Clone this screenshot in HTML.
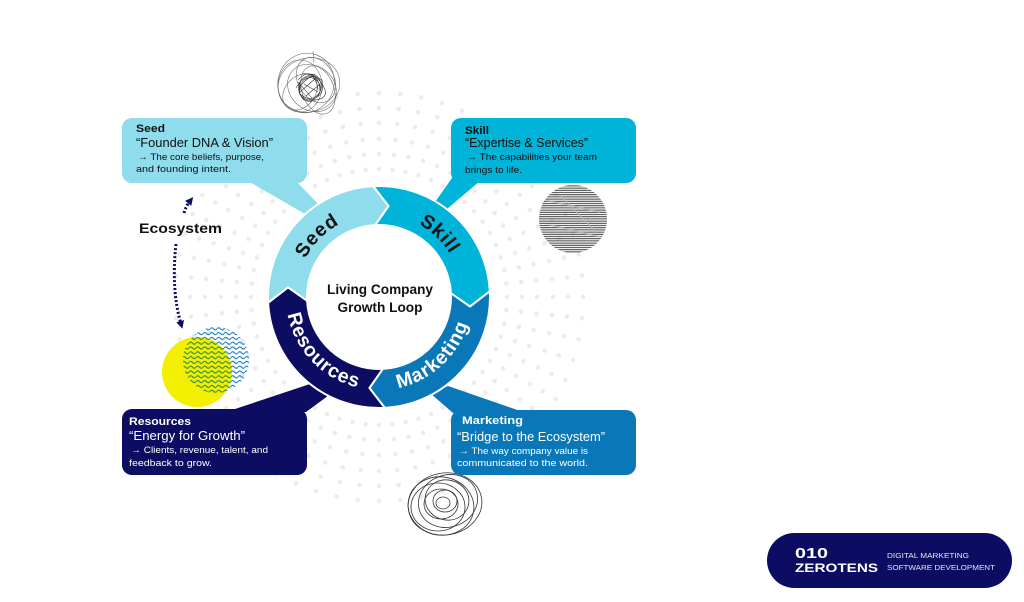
<!DOCTYPE html>
<html>
<head>
<meta charset="utf-8">
<style>
  html,body{margin:0;padding:0;background:#ffffff;}
  body{width:1024px;height:602px;overflow:hidden;}
  svg{display:block;}
  text{font-family:"Liberation Sans", sans-serif;}
</style>
</head>
<body>
<svg width="1024" height="602" viewBox="0 0 1024 602" xmlns="http://www.w3.org/2000/svg">
  <defs>
    <pattern id="wave" patternUnits="userSpaceOnUse" width="7" height="4.8">
      <path d="M0 2.4 Q1.75 0.3 3.5 2.4 T7 2.4" fill="none" stroke="#1f7fc4" stroke-width="1.2"/>
    </pattern>
    <pattern id="waveg" patternUnits="userSpaceOnUse" width="7" height="4.8">
      <path d="M0 2.4 Q1.75 0.3 3.5 2.4 T7 2.4" fill="none" stroke="#2f8f4a" stroke-width="1.2"/>
    </pattern>
    <pattern id="hatch" patternUnits="userSpaceOnUse" width="10" height="2.2">
      <line x1="0" y1="1.1" x2="10" y2="1.1" stroke="#2a2a2a" stroke-width="0.9"/>
    </pattern>
    <clipPath id="yclip"><circle cx="197" cy="372" r="35"/></clipPath>
    <clipPath id="wclip"><circle cx="216" cy="360" r="33"/></clipPath>
    <clipPath id="hclip"><circle cx="573" cy="219" r="34"/></clipPath>
    <path id="topArc" d="M296 297 A83 83 0 0 1 462 297"/>
    <path id="botArc" d="M286 297 A93 93 0 0 0 472 297"/>
    <marker id="ah" markerWidth="8" markerHeight="8" refX="3" refY="4" orient="auto" markerUnits="userSpaceOnUse">
      <path d="M0 0 L8 4 L0 8 Z" fill="#0c0c62"/>
    </marker>
  </defs>

  <!-- radial dots -->
  <g fill="none" stroke="#ececec" stroke-width="4.6" stroke-linecap="round" stroke-dasharray="0 1">
    <circle cx="379" cy="297" r="128" pathLength="60"/>
    <circle cx="379" cy="297" r="143" pathLength="60"/>
    <circle cx="379" cy="297" r="158" pathLength="60"/>
    <circle cx="379" cy="297" r="174" pathLength="60"/>
    <circle cx="379" cy="297" r="189" pathLength="60"/>
    <circle cx="379" cy="297" r="204" pathLength="60"/>
  </g>

  <!-- top scribble -->
  <g fill="none" stroke="#666" stroke-width="0.55">
    <ellipse cx="309" cy="85" rx="31" ry="27" transform="rotate(-15 309 85)"/>
    <ellipse cx="306" cy="83" rx="28" ry="30" transform="rotate(20 306 83)"/>
    <ellipse cx="312" cy="88" rx="26" ry="22" transform="rotate(40 312 88)"/>
    <ellipse cx="300" cy="86" rx="22" ry="26"/>
    <ellipse cx="316" cy="80" rx="18" ry="24" transform="rotate(-30 316 80)"/>
    <ellipse cx="318" cy="90" rx="25" ry="16" transform="rotate(70 318 90)"/>
    <ellipse cx="300" cy="92" rx="20" ry="15" transform="rotate(-50 300 92)"/>
    <path d="M298 80 Q310 66 322 84 T304 100 Q292 88 312 76 Q330 90 310 102 Q296 98 300 82" stroke="#222"/>
    <path d="M302 74 Q320 72 320 92 Q312 104 300 94 Q294 78 314 74 Q326 82 318 96" stroke="#222"/>
    <path d="M296 88 Q306 70 322 80 Q326 98 308 100 Q292 94 304 80 Q316 72 318 90" stroke="#333"/>
    <path d="M304 84 L318 92 M300 92 L316 78 M306 96 L320 84 M298 82 L312 98" stroke="#333"/>
    <path d="M313 51 L314 63"/>
  </g>

  <!-- hatched circle -->
  <rect x="535" y="180" width="80" height="80" fill="url(#hatch)" clip-path="url(#hclip)"/>
  <g clip-path="url(#hclip)" stroke="#bbb" stroke-width="1.5" fill="none" opacity="0.7">
    <path d="M545 200 L600 212"/><path d="M550 225 L605 238"/><path d="M560 195 L596 232"/>
  </g>

  <!-- bottom spiral -->
  <g fill="none" stroke="#333" stroke-width="0.8">
    <ellipse cx="445" cy="504" rx="37" ry="31" transform="rotate(-10 445 504)"/>
    <ellipse cx="441" cy="506" rx="33" ry="29" transform="rotate(10 441 506)"/>
    <ellipse cx="448" cy="501" rx="30" ry="26" transform="rotate(-20 448 501)"/>
    <ellipse cx="438" cy="507" rx="27" ry="24"/>
    <ellipse cx="447" cy="500" rx="22" ry="20" transform="rotate(15 447 500)"/>
    <ellipse cx="441" cy="504" rx="17" ry="15"/>
    <ellipse cx="445" cy="501" rx="12" ry="11"/>
    <ellipse cx="443" cy="503" rx="7" ry="6"/>
  </g>

  <!-- yellow + wavy circles -->
  <circle cx="197" cy="372" r="35" fill="#f3ef00"/>
  <rect x="180" y="325" width="72" height="72" fill="url(#wave)" clip-path="url(#wclip)"/>
  <g clip-path="url(#yclip)">
    <rect x="180" y="325" width="72" height="72" fill="#f3ef00" clip-path="url(#wclip)"/>
    <rect x="180" y="325" width="72" height="72" fill="url(#waveg)" clip-path="url(#wclip)"/>
  </g>

  <!-- Ecosystem arrows -->
  <g fill="none" stroke="#0c0c62" stroke-width="3" stroke-dasharray="2 2">
    <path d="M184 213 Q186 206 190 201" marker-end="url(#ah)"/>
    <path d="M176 244 Q171 290 181 324" marker-end="url(#ah)"/>
  </g>
  <text x="139" y="233" font-size="14" font-weight="bold" fill="#111" textLength="83" lengthAdjust="spacingAndGlyphs">Ecosystem</text>

  <!-- callout tails -->
  <polygon points="248,181 296,181 322,208 312,218" fill="#8edcec"/>
  <polygon points="452,178 480,181 441,214 433,205" fill="#00b3d8"/>
  <polygon points="226,412 306,412 336,390 322,380" fill="#0c0c62"/>
  <polygon points="453,413 526,413 448,386 430,393" fill="#0a78b8"/>

  <!-- callout boxes -->
  <rect x="122" y="118" width="185" height="65" rx="10" fill="#8edcec"/>
  <rect x="451" y="118" width="185" height="65" rx="10" fill="#00b3d8"/>
  <rect x="122" y="409" width="185" height="66" rx="10" fill="#0c0c62"/>
  <rect x="451" y="410" width="185" height="65" rx="10" fill="#0a78b8"/>

  <!-- ring -->
  <g stroke="#ffffff" stroke-width="2" stroke-linejoin="round">
    <path d="M268.15,302.81 A111,111 0 0 1 373.19,186.15 L388.56,206 L375.23,225.10 A72,72 0 0 0 307.10,300.77 L288,287.44 Z" fill="#8edcec"/>
    <path d="M373.19,186.15 A111,111 0 0 1 489.85,291.19 L470,306.56 L450.90,293.23 A72,72 0 0 0 375.23,225.10 L388.56,206 Z" fill="#00b3d8"/>
    <path d="M489.85,291.19 A111,111 0 0 1 384.81,407.85 L369.44,388 L382.77,368.90 A72,72 0 0 0 450.90,293.23 L470,306.56 Z" fill="#0a78b8"/>
    <path d="M384.81,407.85 A111,111 0 0 1 268.15,302.81 L288,287.44 L307.10,300.77 A72,72 0 0 0 382.77,368.90 L369.44,388 Z" fill="#0c0c62"/>
  </g>

  <!-- ring labels -->
  <g font-size="19.5" font-weight="bold" letter-spacing="0.8">
    <text fill="#111"><textPath href="#topArc" startOffset="64.5" text-anchor="middle">Seed</textPath></text>
    <text fill="#111"><textPath href="#topArc" startOffset="193.5" text-anchor="middle">Skill</textPath></text>
    <text fill="#ffffff"><textPath href="#botArc" startOffset="71" text-anchor="middle">Resources</textPath></text>
    <text fill="#ffffff"><textPath href="#botArc" startOffset="215" text-anchor="middle">Marketing</textPath></text>
  </g>

  <!-- center text -->
  <text x="380" y="294" font-size="13.5" font-weight="bold" fill="#111" text-anchor="middle" textLength="106" lengthAdjust="spacingAndGlyphs">Living Company</text>
  <text x="380" y="312" font-size="13.5" font-weight="bold" fill="#111" text-anchor="middle" textLength="85" lengthAdjust="spacingAndGlyphs">Growth Loop</text>

  <!-- Seed box text -->
  <g fill="#111">
    <text x="136" y="132" font-size="11" font-weight="bold" textLength="29" lengthAdjust="spacingAndGlyphs">Seed</text>
    <text x="136" y="147" font-size="12.5" textLength="137" lengthAdjust="spacingAndGlyphs">“Founder DNA &amp; Vision”</text>
    <text x="138" y="160" font-size="9.5" textLength="126" lengthAdjust="spacingAndGlyphs">→ The core beliefs, purpose,</text>
    <text x="136" y="172" font-size="9.5" textLength="95" lengthAdjust="spacingAndGlyphs">and founding intent.</text>
  </g>
  <!-- Skill box text -->
  <g fill="#111">
    <text x="465" y="134" font-size="11" font-weight="bold" textLength="24" lengthAdjust="spacingAndGlyphs">Skill</text>
    <text x="465" y="147" font-size="12.5" textLength="123" lengthAdjust="spacingAndGlyphs">“Expertise &amp; Services”</text>
    <text x="467" y="160" font-size="9.5" textLength="130" lengthAdjust="spacingAndGlyphs">→ The capabilities your team</text>
    <text x="465" y="173" font-size="9.5" textLength="57" lengthAdjust="spacingAndGlyphs">brings to life.</text>
  </g>
  <!-- Resources box text -->
  <g fill="#ffffff">
    <text x="129" y="425" font-size="11" font-weight="bold" textLength="62" lengthAdjust="spacingAndGlyphs">Resources</text>
    <text x="129" y="440" font-size="12.5" textLength="116" lengthAdjust="spacingAndGlyphs">“Energy for Growth”</text>
    <text x="131" y="453" font-size="9.5" textLength="137" lengthAdjust="spacingAndGlyphs">→ Clients, revenue, talent, and</text>
    <text x="129" y="466" font-size="9.5" textLength="83" lengthAdjust="spacingAndGlyphs">feedback to grow.</text>
  </g>
  <!-- Marketing box text -->
  <g fill="#ffffff">
    <text x="462" y="424" font-size="11" font-weight="bold" textLength="61" lengthAdjust="spacingAndGlyphs">Marketing</text>
    <text x="457" y="441" font-size="12.5" textLength="148" lengthAdjust="spacingAndGlyphs">“Bridge to the Ecosystem”</text>
    <text x="459" y="454" font-size="9.5" textLength="129" lengthAdjust="spacingAndGlyphs">→ The way company value is</text>
    <text x="457" y="466" font-size="9.5" textLength="131" lengthAdjust="spacingAndGlyphs">communicated to the world.</text>
  </g>

  <!-- logo pill -->
  <rect x="767" y="533" width="245" height="55" rx="27.5" fill="#0c0c62"/>
  <text x="795" y="558" font-size="15" font-weight="bold" fill="#ffffff" textLength="33" lengthAdjust="spacingAndGlyphs">010</text>
  <text x="795" y="572" font-size="12" font-weight="bold" fill="#ffffff" textLength="83" lengthAdjust="spacingAndGlyphs">ZEROTENS</text>
  <text x="887" y="558" font-size="7.5" fill="#e6e6f2" textLength="82" lengthAdjust="spacingAndGlyphs">DIGITAL MARKETING</text>
  <text x="887" y="570" font-size="7.5" fill="#e6e6f2" textLength="108" lengthAdjust="spacingAndGlyphs">SOFTWARE DEVELOPMENT</text>
</svg>
</body>
</html>
